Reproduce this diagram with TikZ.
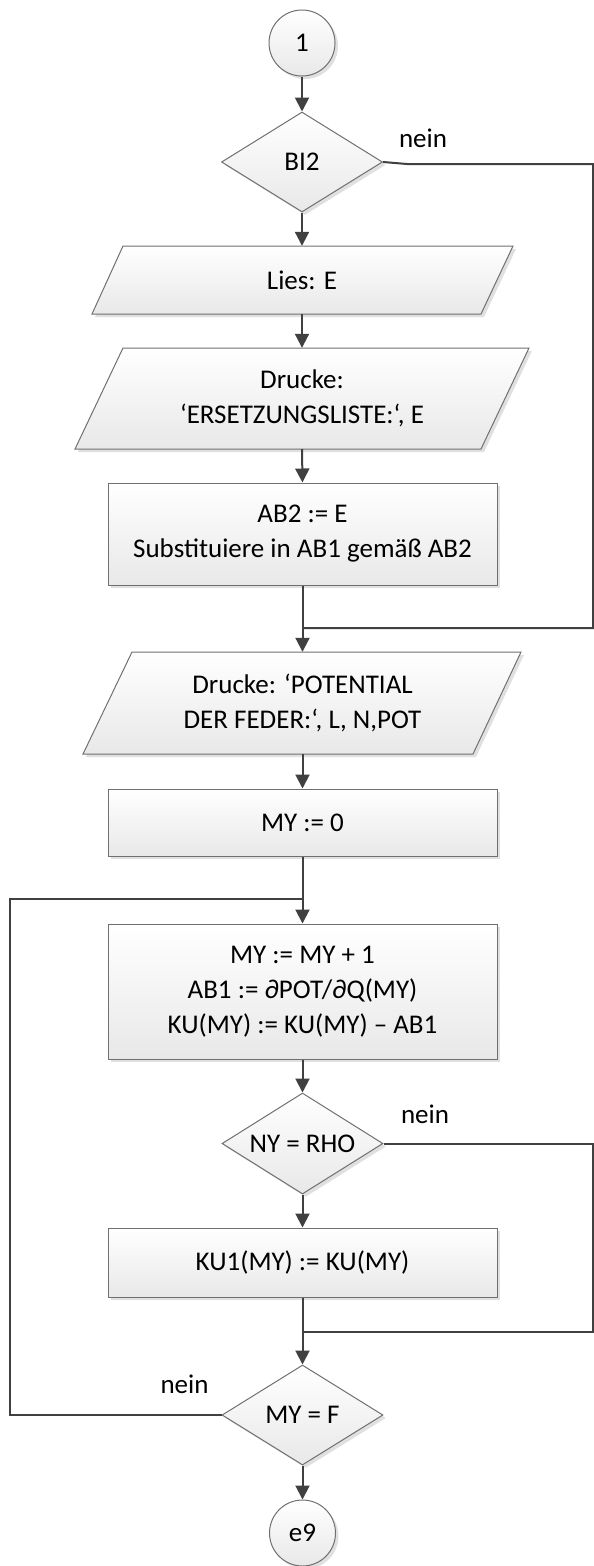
\documentclass[tikz,border=0pt]{standalone}
\usepackage{fontspec}
\setmainfont{Carlito}
\usetikzlibrary{shapes.geometric,arrows.meta,shadows}
\definecolor{bordergray}{HTML}{707070}
\definecolor{linegray}{HTML}{404040}
\begin{document}
\begin{tikzpicture}[x=1pt,y=-1pt,
  font=\fontsize{27}{35}\selectfont,
  shp/.style={draw=bordergray, line width=1pt, top color=white, bottom color=black!9,
    drop shadow={shadow xshift=3pt,shadow yshift=-3pt,opacity=0.35,fill=black!35}},
  proc/.style={shp, rectangle, minimum width=389, minimum height=#1, inner sep=0, align=center},
  dec/.style={shp, diamond, minimum width=161, minimum height=100, inner sep=0, shape aspect=1.6},
  term/.style={shp, circle, minimum size=66, inner sep=0},
  iotext/.style={rectangle, minimum width=300, minimum height=#1, inner sep=0, align=center},
  conn/.style={draw=linegray, line width=2pt},
  arr/.style={conn, -{Triangle[width=14pt,length=14pt]}},
  lbl/.style={inner sep=0, anchor=base}]
\useasboundingbox (0,0) rectangle (594,1566);

% start terminal
\node[term] (c1) at (302,43) {1};
% decision BI2
\node[dec] (d1) at (302,162) {BI2};
% Lies: E
\path[shp] (123,246) -- (513,246) -- (481,314) -- (92,314) -- cycle;
\node[iotext=68] (p1) at (302,280) {Lies: E};
% Drucke ERSETZUNGSLISTE
\path[shp] (123,348) -- (529,348) -- (481,449) -- (75,449) -- cycle;
\node[iotext=101] (p2) at (302,398.5) {Drucke:\\‘ERSETZUNGSLISTE:‘, E};
% AB2 box
\node[proc=102] (r1) at (302.5,534) {AB2 := E\\Substituiere in AB1 gemäß AB2};
\coordinate (m1) at (302.5,628);
% Drucke POTENTIAL
\path[shp] (132,652) -- (521,652) -- (473,754) -- (83,754) -- cycle;
\node[iotext=102] (p3) at (302.5,703) {Drucke: ‘POTENTIAL\\DER FEDER:‘, L, N,POT};
% MY := 0
\node[proc=67] (r2) at (302.5,822.5) {MY := 0};
\coordinate (m2) at (302.5,899);
% big box
\node[proc=135] (r3) at (302.5,991.5) {MY := MY + 1\\AB1 := ∂POT/∂Q(MY)\\KU(MY) := KU(MY) – AB1};
% NY = RHO
\node[dec, minimum height=101] (d2) at (302.5,1143.5) {NY = RHO};
% KU1
\node[proc=69] (r4) at (302.5,1262.5) {KU1(MY) := KU(MY)};
\coordinate (m3) at (302.5,1332);
% MY = F
\node[dec] (d3) at (302.5,1415) {MY = F};
% end terminal
\node[term] (c2) at (302.5,1533) {e9};

% free corner points
\coordinate (k1) at (407,164);
\coordinate (k1b) at (593,164);
\coordinate (k2) at (593,1143.5);
\coordinate (k3) at (9.5,1415);

% connectors
\draw[arr] (c1.south) -- (d1.north);
\draw[arr] (d1.south) -- (p1.north);
\draw[arr] (p1.south) -- (p2.north);
\draw[arr] (p2.south) -- (r1.north);
\draw[conn] (d1.east) -- (k1) -- (k1b) |- (m1);
\draw[conn] (r1.south) -- (m1);
\draw[arr] (m1) -- (p3.north);
\draw[arr] (p3.south) -- (r2.north);
\draw[conn] (r2.south) -- (m2);
\draw[arr] (m2) -- (r3.north);
\draw[arr] (r3.south) -- (d2.north);
\draw[conn] (d2.east) -- (k2) |- (m3);
\draw[arr] (d2.south) -- (r4.north);
\draw[conn] (r4.south) -- (m3);
\draw[arr] (m3) -- (d3.north);
\draw[conn] (d3.west) -- (k3) |- (m2);
\draw[arr] (d3.south) -- (c2.north);

% labels
\node[lbl] (n1) at (423,147) {nein};
\node[lbl] (n2) at (425,1123) {nein};
\node[lbl] (n3) at (184.5,1393) {nein};
\end{tikzpicture}
\end{document}
